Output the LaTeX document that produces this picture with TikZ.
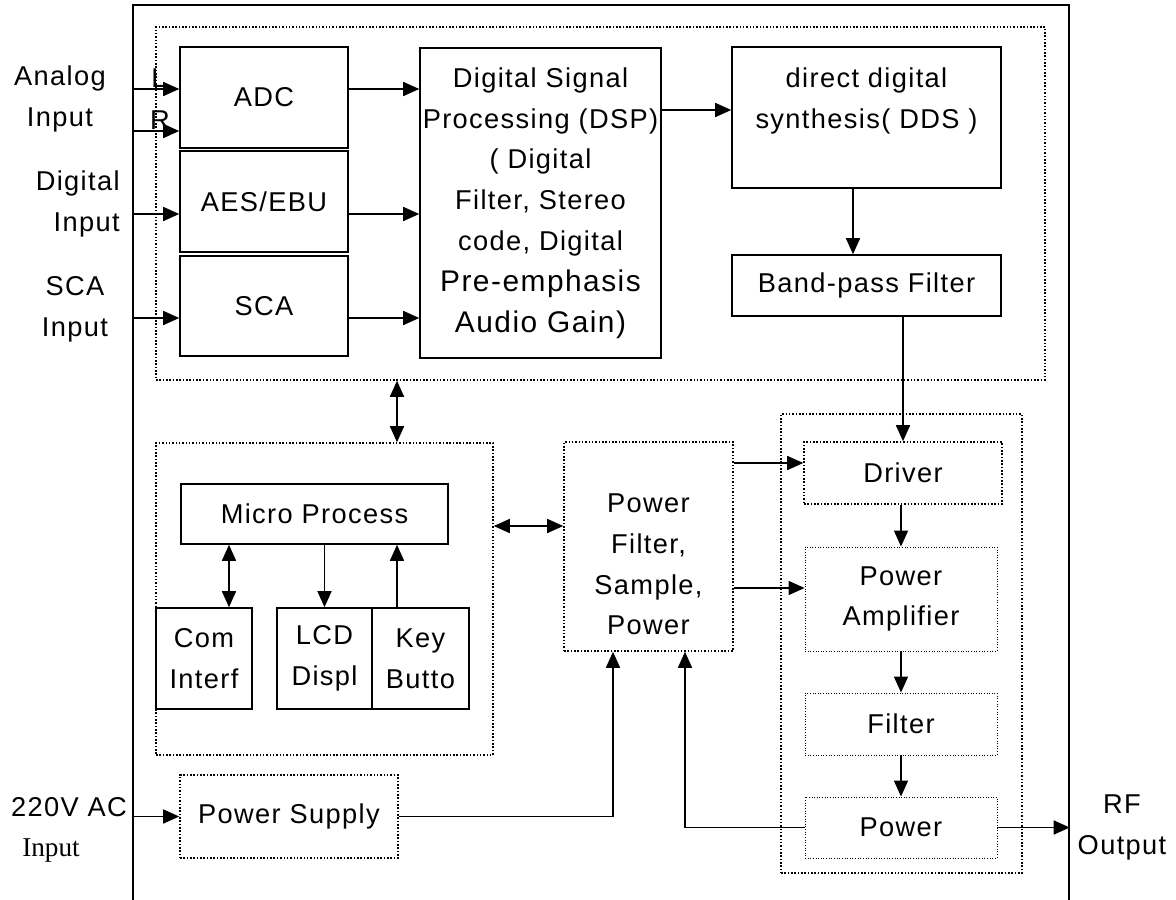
\documentclass[tikz,border=0pt]{standalone}
\usepackage{fontspec}
\setmainfont{Liberation Sans}[LetterSpace=5]
\newfontfamily\serifin{Liberation Serif}
\usetikzlibrary{arrows.meta}

\tikzset{
  blk/.style={draw, line width=0.9pt, inner sep=0pt, align=center},
  dbox/.style={draw, densely dotted, line width=0.9pt, inner sep=0pt, align=center},
  lbox/.style={draw, densely dotted, line width=0.5pt, inner sep=0pt, align=center},
  grp/.style={draw, densely dotted, line width=0.9pt, inner sep=0pt},
  lbl/.style={align=center, inner sep=0pt},
  arr/.style={-{Triangle[length=0.32cm,width=0.28cm]}, line width=0.9pt},
  darr/.style={{Triangle[length=0.32cm,width=0.28cm]}-{Triangle[length=0.32cm,width=0.28cm]}, line width=0.9pt}
}

\begin{document}
\begin{tikzpicture}[x=0.02cm, y=-0.02cm, font=\fontsize{15.5}{23.25}\selectfont]
 \useasboundingbox (0,0) rectangle (1176,899);
 % frame and groups
 \node[blk, minimum width=18.72cm, minimum height=18.2cm] (frame) at (601,460) {};
 \node[grp, minimum width=17.78cm, minimum height=7.06cm] (top) at (600.5,203.5) {};
 \node[grp, minimum width=6.74cm, minimum height=6.24cm] (micro) at (324.5,599) {};
 \node[grp, minimum width=4.82cm, minimum height=9.18cm] (rgt) at (901.5,643.5) {};
 % audio part
 \node[blk, minimum width=3.36cm, minimum height=2.02cm] (adc) at (264,97.5) {ADC};
 \node[blk, minimum width=3.36cm, minimum height=2.02cm] (aes) at (264,201.5) {AES/EBU};
 \node[blk, minimum width=3.36cm, minimum height=2cm] (sca) at (264,306) {SCA};
 \node[blk, minimum width=4.82cm, minimum height=6.2cm] (dsp) at (540.5,203)
   {Digital Signal\\Processing (DSP)\\( Digital\\Filter, Stereo\\code, Digital\\
    {\fontsize{17}{23.25}\selectfont Pre-emphasis}\\{\fontsize{17}{23.25}\selectfont Audio Gain)}};
 \node[blk, minimum width=5.38cm, minimum height=2.82cm] (dds) at (866.5,117.5)
   {direct digital\\synthesis( DDS )\\[-8pt]\strut};
 \node[blk, minimum width=5.38cm, minimum height=1.22cm] (bpf) at (866.5,285.5) {Band-pass Filter};
 % control part
 \node[blk, minimum width=5.34cm, minimum height=1.2cm] (mp) at (314.5,514) {Micro Process};
 \node[blk, minimum width=1.92cm, minimum height=2.02cm] (com) at (204,658.5) {Com\\Interf};
 \node[blk, minimum width=1.9cm, minimum height=2.02cm] (lcd) at (324.5,658.5) {LCD\\Displ};
 \node[blk, minimum width=1.94cm, minimum height=2.02cm] (key) at (420.5,658.5) {Key\\Butto};
 \node[dbox, minimum width=3.38cm, minimum height=4.18cm] (pf) at (648.5,546.5)
   {\strut\\[-8.5pt]Power\\Filter,\\Sample,\\Power};
 \node[dbox, minimum width=4.36cm, minimum height=1.66cm] (ps) at (289,816.5) {Power Supply};
 % rf part
 \node[dbox, minimum width=3.96cm, minimum height=1.24cm] (drv) at (903,473) {Driver};
 \node[lbox, minimum width=3.84cm, minimum height=2.08cm] (pa) at (901,599) {Power\\Amplifier};
 \node[lbox, minimum width=3.84cm, minimum height=1.24cm] (filt) at (901,724) {Filter};
 \node[lbox, minimum width=3.84cm, minimum height=1.22cm] (pw) at (901,827.5) {Power};
 % outside labels
 \node[lbl] (t-ana) at (60,99) {Analog\\Input};
 \node[lbl, anchor=east, align=right] (t-dig) at (120,204) {Digital\\Input};
 \node[lbl] (t-sca) at (75,309) {SCA\\Input};
 \node[lbl] (t-l) at (159,78) {L};
 \node[lbl] (t-r) at (160,120) {R};
 \node[lbl] (t-ac) at (69,807) {220V AC};
 \node[lbl, font=\serifin\fontsize{15.5}{23.25}\selectfont] (t-acin) at (51,850) {Input};
 \node[lbl] (t-rf) at (1122,827.5) {RF\\Output};
 % connector heights
 \coordinate (yL) at (0,89);
 \coordinate (yR) at (0,131);
 \coordinate (yD) at (0,214);
 \coordinate (yS) at (0,318);
 \coordinate (yDDS) at (0,110);
 \coordinate (yMu) at (0,526);
 \coordinate (yDrv) at (0,463);
 \coordinate (yPA) at (0,588);
 \coordinate (xBus) at (397,0);
 \coordinate (xCom) at (229,0);
 \coordinate (xBpf) at (853,0);
 \coordinate (xSup) at (613,0);
 \coordinate (xFb) at (685,0);
 \path[arr]
  (frame.west |- yL) edge (adc.west |- yL)
  (frame.west |- yR) edge (adc.west |- yR)
  (frame.west |- yD) edge (aes.west |- yD)
  (frame.west |- yS) edge (sca.west |- yS)
  (adc.east |- yL) edge (dsp.west |- yL)
  (aes.east |- yD) edge (dsp.west |- yD)
  (sca.east |- yS) edge (dsp.west |- yS)
  (dsp.east |- yDDS) edge (dds.west |- yDDS)
  (dds.south -| xBpf) edge (bpf.north -| xBpf)
  (bpf.south -| drv.north) edge (drv.north)
  (pf.east |- yDrv) edge (drv.west |- yDrv)
  (pf.east |- yPA) edge (pa.west |- yPA)
  (drv.south -| pa.north) edge (pa.north)
  (pa.south) edge (filt.north)
  (filt.south) edge (pw.north)
  (pw.east) edge (frame.east |- pw.east)
  (frame.west |- ps.west) edge (ps.west)
  (mp.south -| lcd.north) edge (lcd.north)
  (key.north -| xBus) edge (mp.south -| xBus);
 \path[darr]
  (top.south -| xBus) edge (micro.north -| xBus)
  (micro.east |- yMu) edge (pf.west |- yMu)
  (mp.south -| xCom) edge (com.north -| xCom);
 \draw[arr] (ps.east) -| (pf.south -| xSup);
 \draw[arr] (pw.west) -| (pf.south -| xFb);
\end{tikzpicture}
\end{document}
